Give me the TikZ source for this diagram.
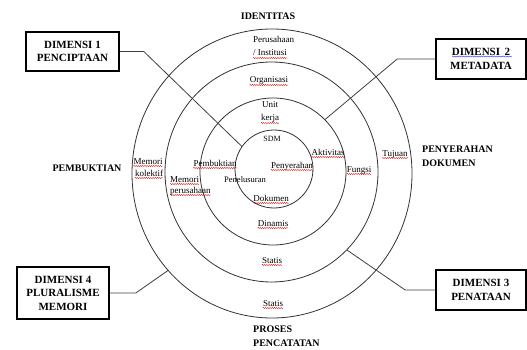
\documentclass[tikz,border=0pt]{standalone}
\usepackage{fontspec}
\setmainfont{Liberation Serif}
\usetikzlibrary{shapes.geometric,decorations.pathmorphing}
\tikzset{
  ring/.style={draw=black!80, line width=0.8pt, ellipse, inner sep=0pt, outer sep=0pt},
  conn/.style={draw=black!75, line width=0.8pt},
  dimbox/.style={draw=black, line width=1.6pt, font=\fontsize{11}{13.5}\selectfont\bfseries, align=center, inner sep=0pt},
  lbl/.style={font=\fontsize{9}{11}\selectfont, inner sep=0pt, anchor=base},
  head/.style={font=\fontsize{10}{13.5}\selectfont\bfseries, inner sep=0pt, align=left},
  squig/.style={draw=red!85!black, line width=0.35pt, decorate, decoration={snake, amplitude=0.55pt, segment length=2.2pt}},
  bsquig/.style={draw=blue!80, line width=0.35pt, decorate, decoration={snake, amplitude=0.55pt, segment length=2.2pt}},
  sq/.style={append after command={([yshift=-2pt]\tikzlastnode.base west) edge[squig] ([yshift=-2pt]\tikzlastnode.base east)}}
}
\begin{document}
\begin{tikzpicture}[x=1pt,y=-1pt]
\useasboundingbox (0,0) rectangle (527,350);
% rings
\node[ring, minimum width=280pt, minimum height=289pt] (o1) at (272,173.5) {};
\node[ring, minimum width=213pt, minimum height=220pt] (o2) at (271.5,172) {};
\node[ring, minimum width=146pt, minimum height=147pt] (o3) at (273,171.5) {};
\node[ring, minimum width=78pt, minimum height=78pt] (o4) at (274,169) {};
% dimension boxes
\node[dimbox, minimum width=93pt, minimum height=39pt] (d1) at (72.5,51.5) {DIMENSI 1\\PENCIPTAAN};
\node[dimbox, minimum width=90pt, minimum height=40pt] (d2) at (481,59) {DIMENSI\, 2\\METADATA};
\node[dimbox, minimum width=90pt, minimum height=40pt] (d3) at (481,290) {DIMENSI 3\\PENATAAN};
\node[dimbox, minimum width=92pt, minimum height=52pt] (d4) at (63,293) {DIMENSI 4\\PLURALISME\\MEMORI};
\draw[bsquig] ([xshift=-29pt,yshift=2.5pt]d2.center) -- ([xshift=31pt,yshift=2.5pt]d2.center);
% connectors
\draw[conn] (d1.east) -- ++(24,0) -- (o4.145);
\draw[conn] (d2.west) -- ++(-38,0) -- (o3.45);
\draw[conn] (d3.west) -- ++(-30,0) -- (o2.-46);
\draw[conn] (d4.east) -- ++(26,0) -- (o1.-137);
% outer headings
\node[head, anchor=center] (hid) at (268,16) {IDENTITAS};
\node[head, anchor=center] (hpb) at (87,168) {PEMBUKTIAN};
\node[head, anchor=north west] (hpy) at (422,146) {PENYERAHAN\\DOKUMEN};
\node[head, anchor=north west] (hpr) at (253,326) {PROSES\\PENCATATAN};
% ring labels
\node[lbl, anchor=base west] (t1) at (253,43) {Perusahaan};
\node[lbl, anchor=base west, sq] (t2) at (253,56) {/ Institusi};
\node[lbl, sq] (t3) at (269,83) {Organisasi};
\node[lbl] (t4) at (270,108) {Unit};
\node[lbl, sq] (t5) at (270,121) {kerja};
\node[lbl, font=\fontsize{8}{10}\selectfont] (t6) at (272,142) {SDM};
\node[lbl, sq] (t7) at (292,168) {Penyerahan};
\node[lbl, sq] (t8) at (215,166) {Pembuktian};
\node[lbl, font=\fontsize{8.5}{10}\selectfont] (t9) at (245,182) {Penelusuran};
\node[lbl, sq] (t10) at (271,201) {Dokumen};
\node[lbl, sq] (t11) at (273,226) {Dinamis};
\node[lbl, sq] (t12) at (328,155) {Aktivitas};
\node[lbl, sq] (t13) at (359,172) {Fungsi};
\node[lbl, sq] (t14) at (395,156) {Tujuan};
\node[lbl, sq] (t15) at (148,164) {Memori};
\node[lbl, sq] (t16) at (149,176) {kolektif};
\node[lbl, anchor=base west, sq] (t17) at (170,182) {Memori};
\node[lbl, anchor=base west, sq] (t18) at (170,193) {perusahaan};
\node[lbl, sq] (t19) at (272,263) {Statis};
\node[lbl, sq] (t20) at (273,306) {Statis};
\end{tikzpicture}
\end{document}
